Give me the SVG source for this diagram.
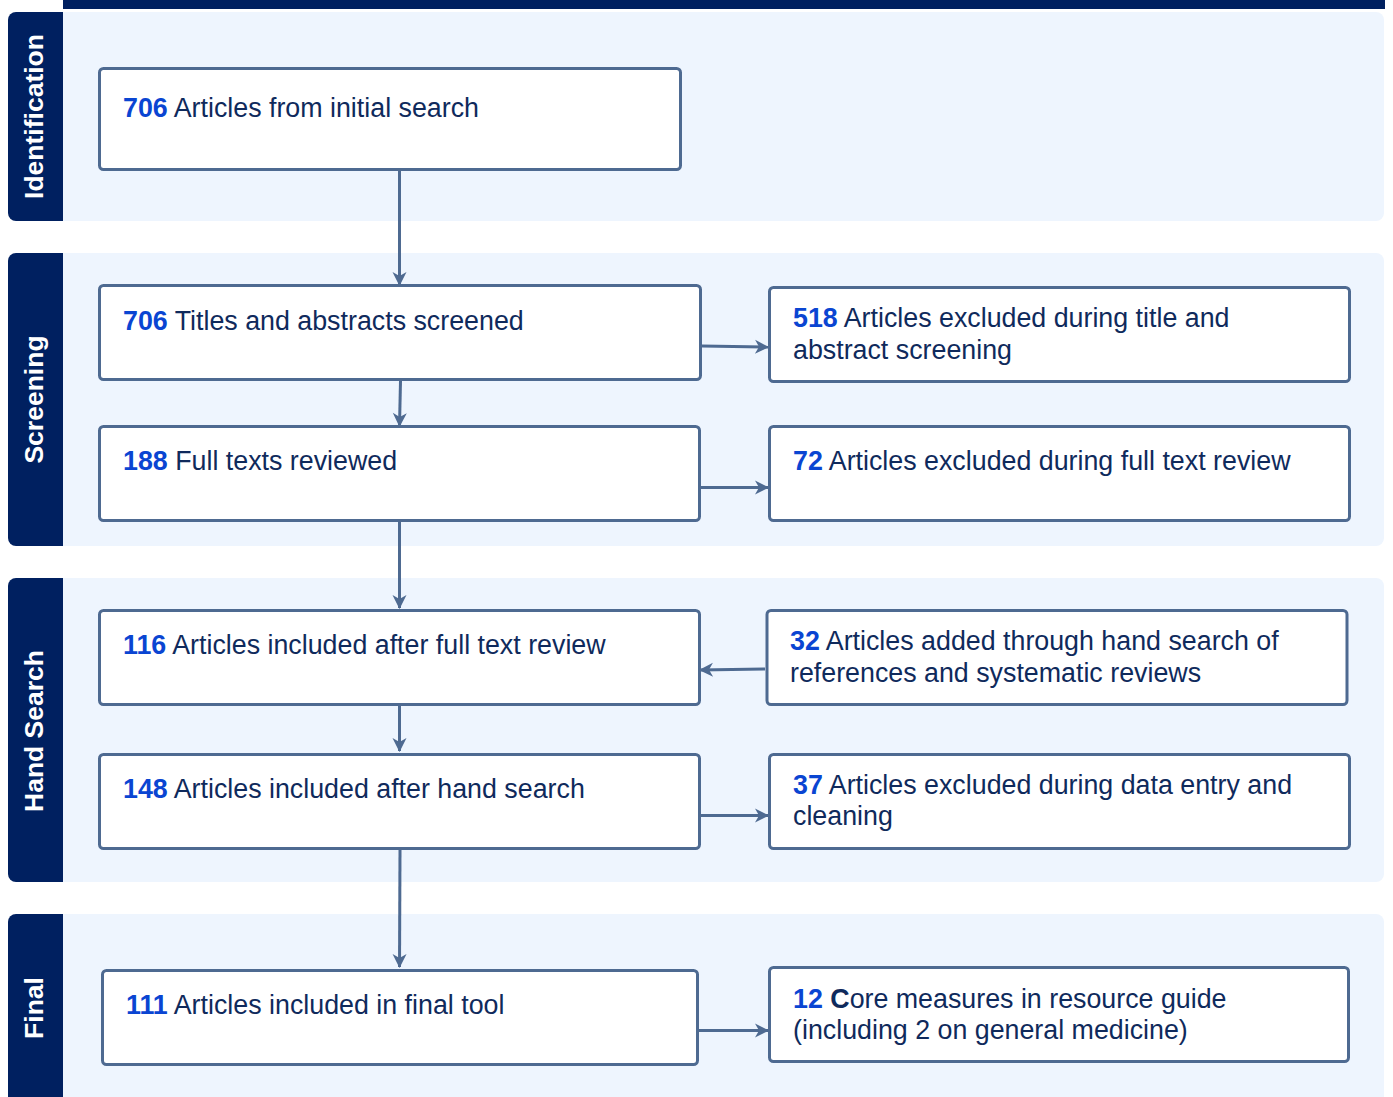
<svg xmlns="http://www.w3.org/2000/svg" width="1393" height="1097" viewBox="0 0 1393 1097">
<defs>
<style>
.band{fill:#EEF5FE}
.side{fill:#002060}
.sidet{font-family:"Liberation Sans",Arial,sans-serif;font-size:26.5px;font-weight:bold;fill:#FFFFFF}
.box{fill:#FFFFFF;stroke:#4E6A91;stroke-width:3}
.t{font-family:"Liberation Sans",Arial,sans-serif;font-size:26.8px;fill:#0F2A5C}
.n{font-weight:bold;fill:#0A45D2}
.b{font-weight:bold}
.c{fill:none;stroke:#4E6A91;stroke-width:3}
</style>
<marker id="ah" markerUnits="userSpaceOnUse" markerWidth="16" markerHeight="16" viewBox="0 0 16 16" refX="14" refY="8" orient="auto">
<path d="M1,1 L15,8 L1,15 L5,8 Z" fill="#4E6A91"/>
</marker>
</defs>
<rect x="63" y="0" width="1322" height="9" fill="#002060"/>
<g id="band-identification">
<path class="band" d="M63,12 H1376 a8,8 0 0 1 8,8 V213 a8,8 0 0 1 -8,8 H63 Z"/>
<path class="side" d="M16,12 H63 V221 H16 a8,8 0 0 1 -8,-8 V20 a8,8 0 0 1 8,-8 Z"/>
<text class="sidet" transform="translate(43,116.5) rotate(-90)" text-anchor="middle">Identification</text>
</g>
<g id="band-screening">
<path class="band" d="M63,253 H1376 a8,8 0 0 1 8,8 V538 a8,8 0 0 1 -8,8 H63 Z"/>
<path class="side" d="M16,253 H63 V546 H16 a8,8 0 0 1 -8,-8 V261 a8,8 0 0 1 8,-8 Z"/>
<text class="sidet" transform="translate(43,399.5) rotate(-90)" text-anchor="middle">Screening</text>
</g>
<g id="band-handsearch">
<path class="band" d="M63,578 H1376 a8,8 0 0 1 8,8 V874 a8,8 0 0 1 -8,8 H63 Z"/>
<path class="side" d="M16,578 H63 V882 H16 a8,8 0 0 1 -8,-8 V586 a8,8 0 0 1 8,-8 Z"/>
<text class="sidet" transform="translate(43,731) rotate(-90)" text-anchor="middle">Hand Search</text>
</g>
<g id="band-final">
<path class="band" d="M63,914 H1376 a8,8 0 0 1 8,8 V1110 H63 Z"/>
<path class="side" d="M16,914 H63 V1110 H8 V922 a8,8 0 0 1 8,-8 Z"/>
<text class="sidet" transform="translate(43,1008) rotate(-90)" text-anchor="middle">Final</text>
</g>
<g id="connectors">
<line class="c" x1="399.5" y1="171" x2="399.5" y2="285" marker-end="url(#ah)"/>
<line class="c" x1="400.5" y1="381" x2="399.5" y2="426" marker-end="url(#ah)"/>
<line class="c" x1="702" y1="346" x2="768" y2="347" marker-end="url(#ah)"/>
<line class="c" x1="701" y1="487.5" x2="768" y2="487.5" marker-end="url(#ah)"/>
<line class="c" x1="399.5" y1="522" x2="399.5" y2="608" marker-end="url(#ah)"/>
<line class="c" x1="765" y1="669" x2="700" y2="670" marker-end="url(#ah)"/>
<line class="c" x1="399.5" y1="706" x2="399.5" y2="751" marker-end="url(#ah)"/>
<line class="c" x1="701" y1="815.5" x2="768" y2="815.5" marker-end="url(#ah)"/>
<line class="c" x1="400" y1="850" x2="399.5" y2="967" marker-end="url(#ah)"/>
<line class="c" x1="699" y1="1030.5" x2="768" y2="1030.5" marker-end="url(#ah)"/>
</g>
<g id="n1">
<rect class="box" x="99.5" y="68.5" width="581" height="101" rx="4"/>
<text class="t" x="123" y="117"><tspan class="n">706</tspan> Articles from initial search</text>
</g>
<g id="n2">
<rect class="box" x="99.5" y="285.5" width="601" height="94" rx="4"/>
<text class="t" x="123" y="329.5"><tspan class="n">706</tspan> Titles and abstracts screened</text>
</g>
<g id="n3">
<rect class="box" x="769.5" y="287.5" width="580" height="94" rx="4"/>
<text class="t" x="793" y="326.5"><tspan class="n">518</tspan> Articles excluded during title and</text>
<text class="t" x="793" y="358.5">abstract screening</text>
</g>
<g id="n4">
<rect class="box" x="99.5" y="426.5" width="600" height="94" rx="4"/>
<text class="t" x="123" y="469.5"><tspan class="n">188</tspan> Full texts reviewed</text>
</g>
<g id="n5">
<rect class="box" x="769.5" y="426.5" width="580" height="94" rx="4"/>
<text class="t" x="793" y="469.5"><tspan class="n">72</tspan> Articles excluded during full text review</text>
</g>
<g id="n6">
<rect class="box" x="99.5" y="610.5" width="600" height="94" rx="4"/>
<text class="t" x="123" y="653.5"><tspan class="n">116</tspan> Articles included after full text review</text>
</g>
<g id="n7">
<rect class="box" x="767" y="610.5" width="580" height="94" rx="4"/>
<text class="t" x="790" y="649.5"><tspan class="n">32</tspan> Articles added through hand search of</text>
<text class="t" x="790" y="681.5">references and systematic reviews</text>
</g>
<g id="n8">
<rect class="box" x="99.5" y="754.5" width="600" height="94" rx="4"/>
<text class="t" x="123" y="797.5"><tspan class="n">148</tspan> Articles included after hand search</text>
</g>
<g id="n9">
<rect class="box" x="769.5" y="754.5" width="580" height="94" rx="4"/>
<text class="t" x="793" y="793.5"><tspan class="n">37</tspan> Articles excluded during data entry and</text>
<text class="t" x="793" y="825">cleaning</text>
</g>
<g id="n10">
<rect class="box" x="102.5" y="970.5" width="595" height="94" rx="4"/>
<text class="t" x="126" y="1013.5"><tspan class="n">111</tspan> Articles included in final tool</text>
</g>
<g id="n11">
<rect class="box" x="769.5" y="967.5" width="579" height="94" rx="4"/>
<text class="t" x="793" y="1007.5"><tspan class="n">12</tspan> <tspan class="b">C</tspan>ore measures in resource guide</text>
<text class="t" x="793" y="1039">(including 2 on general medicine)</text>
</g>
</svg>
